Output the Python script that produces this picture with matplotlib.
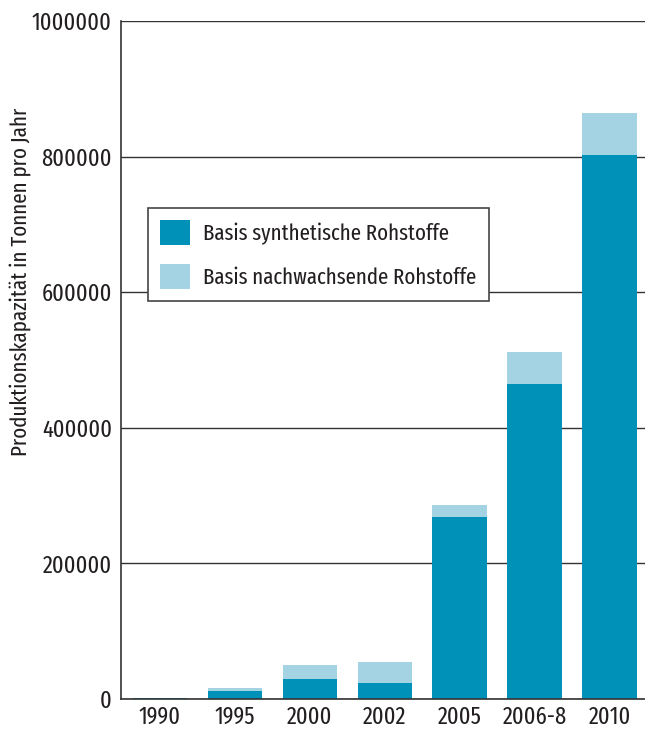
import matplotlib
matplotlib.use("Agg")
import matplotlib.pyplot as plt
from matplotlib.patches import Patch
import numpy as np

plt.rcParams['font.family'] = ['Fira Sans Extra Condensed', 'Fira Sans Condensed', 'DejaVu Sans']

categories = ["1990", "1995", "2000", "2002", "2005", "2006-8", "2010"]
synthetisch = [1500, 12000, 30000, 23000, 268000, 465000, 802000]
nachwachsend = [500, 4000, 20000, 32000, 18000, 47000, 62000]
yticks = [0, 200000, 400000, 600000, 800000, 1000000]

dark = "#0091B9"
light = "#A4D3E3"
txt = "#231f20"

fig = plt.figure(figsize=(6.45, 7.29), dpi=100)
ax = fig.add_axes([121/645, 30/729, 524/645, 678/729])

x = np.arange(len(categories))
ax.bar(x, synthetisch, width=0.73, color=dark, zorder=3)
ax.bar(x, nachwachsend, bottom=synthetisch, width=0.73, color=light, zorder=3)

ax.set_xlim(-0.52, 6.47)
ax.set_ylim(0, 1000000)
ax.set_yticks(yticks)
ax.set_yticklabels([str(v) for v in yticks], fontsize=17.5, color=txt)
ax.set_xticks(x)
ax.set_xticklabels(categories, fontsize=17.5, color=txt)
ax.tick_params(axis='y', length=0, pad=6.5)
ax.tick_params(axis='x', length=0, pad=5)
ax.yaxis.grid(True, color="#333333", linewidth=1.0, zorder=0)
ax.set_axisbelow(True)
for s in ["top", "right"]:
    ax.spines[s].set_visible(False)
for s in ["left", "bottom"]:
    ax.spines[s].set_color("#333333")
    ax.spines[s].set_linewidth(1.2)
ax.spines["bottom"].set_zorder(4)

fig.text(20/645, (729-282)/729, "Produktionskapazität in Tonnen pro Jahr", rotation=90,
         ha="center", va="center", fontsize=16.5, color=txt)

handles = [Patch(facecolor=dark, label="Basis synthetische Rohstoffe"),
           Patch(facecolor=light, label="Basis nachwachsende Rohstoffe")]
leg = ax.legend(handles=handles, loc="upper left", bbox_to_anchor=(27/524, (699-208)/678),
                borderaxespad=0, fontsize=16.3, frameon=True, fancybox=False, edgecolor="#444444",
                handlelength=1.3, handleheight=1.3, labelspacing=0.85,
                borderpad=0.55, handletextpad=0.6, framealpha=1)
leg.get_frame().set_linewidth(1.2)
for t in leg.get_texts():
    t.set_color(txt)

fig.savefig("out.png", dpi=100)
